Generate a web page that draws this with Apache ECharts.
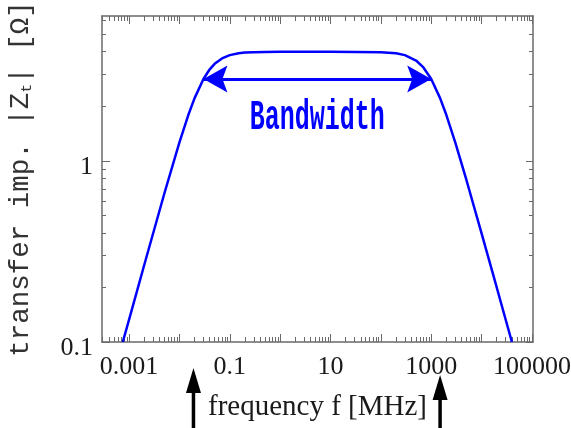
<!DOCTYPE html>
<html><head><meta charset="utf-8">
<script src="https://cdn.jsdelivr.net/npm/echarts@6/dist/echarts.min.js"></script>
<style>html,body{margin:0;padding:0;background:#fff}#c{width:571px;height:428px}</style>
</head><body><div id="c"></div>
<script>
// ---- data ----
const freq = [0.00075,0.001,0.002,0.005,0.01,0.015,0.02,0.03,0.04,0.05,0.07,0.1,0.15,0.2,0.3,0.5,1,10,100,200,300,500,700,1000,1500,2000,3000,5000,10000,20000,40000];
const impedance = [0.1,0.133,0.266,0.658,1.265,1.789,2.219,2.828,3.2,3.43,3.676,3.831,3.922,3.956,3.98,3.993,3.998,4.0,3.98,3.922,3.831,3.578,3.277,2.828,2.219,1.789,1.265,0.784,0.398,0.2,0.1];
const bandEdges = [0.03, 1000];
const bandLevel = 2.83;
const bandLabel = 'Bandwidth';
const bandLabelPos = [5.48, 1.72];
const markerFreqs = [0.019, 1500];
const xLabelVals = [0.001, 0.1, 10, 1000, 100000];
const xLabelText = ['0.001', '0.1', '10', '1000', '100000'];
const xMajor = [0.001,0.01,0.1,1,10,100,1000,10000,100000];
const xMinor = [];
[0.0001,0.001,0.01,0.1,1,10,100,1000,10000].forEach(d => { for (let k = 2; k <= 9; k++) xMinor.push(+(d*k).toPrecision(3)); });
const yLabelVals = [0.1, 1];
const yLabelText = ['0.1', '1'];
const yMajor = [0.1, 1];
const yMinor = [0.2,0.3,0.4,0.5,0.6,0.7,0.8,0.9,2,3,4,5,6];
const xName = 'frequency f [MHz]';
const xMin = 0.00029, xMax = 105000, yMin = 0.1, yMax = 6.3;

const AX = '#6a6a6a';
const BLUE = '#0000ff';
const serif = '"Liberation Serif", "DejaVu Serif", serif';
const mono = '"Liberation Mono", "DejaVu Sans Mono", monospace';

function xAxisDef(pos, ticks, len, showLine, showLabel) {
  return {
    type: 'log', logBase: 10, position: pos, min: xMin, max: xMax,
    axisLine: { show: showLine, onZero: false, lineStyle: { color: AX, width: 1.5 } },
    axisTick: { show: true, inside: true, length: len, customValues: ticks, lineStyle: { color: AX, width: 1 } },
    axisLabel: showLabel ? {
      show: true, customValues: xLabelVals, margin: 12, color: '#1a1a1a',
      fontFamily: serif, fontSize: 26, hideOverlap: false,
      formatter: v => xLabelText[xLabelVals.findIndex(a => Math.abs(Math.log10(a) - Math.log10(v)) < 0.01)]
    } : { show: false },
    splitLine: { show: false }, minorTick: { show: false }, minorSplitLine: { show: false }
  };
}
function yAxisDef(pos, ticks, len, showLine, showLabel) {
  return {
    type: 'log', logBase: 10, position: pos, min: yMin, max: yMax,
    axisLine: { show: showLine, onZero: false, lineStyle: { color: AX, width: 1.5 } },
    axisTick: { show: true, inside: true, length: len, customValues: ticks, lineStyle: { color: AX, width: 1 } },
    axisLabel: showLabel ? {
      show: true, customValues: yLabelVals, margin: 9, color: '#1a1a1a',
      fontFamily: serif, fontSize: 26, verticalAlign: 'top', lineHeight: 12,
      formatter: v => yLabelText[yLabelVals.findIndex(a => Math.abs(Math.log10(a) - Math.log10(v)) < 0.01)]
    } : { show: false },
    splitLine: { show: false }, minorTick: { show: false }, minorSplitLine: { show: false }
  };
}

const xa0 = xAxisDef('bottom', xMajor, 8, true, true);
xa0.name = xName; xa0.nameLocation = 'middle'; xa0.nameGap = 51;
xa0.nameTextStyle = { fontFamily: serif, fontSize: 29, color: '#1a1a1a' };
const ya0 = yAxisDef('left', yMajor, 8, true, true);
ya0.name = '{a|transfer imp. |Z}{s|t}{a|| [Ω]}';
ya0.nameLocation = 'middle'; ya0.nameGap = 67;
ya0.nameTextStyle = {
  color: '#333',
  rich: {
    a: { fontFamily: mono, fontSize: 27.5, color: '#333', lineHeight: 28 },
    s: { fontFamily: mono, fontSize: 15, color: '#333', verticalAlign: 'bottom', lineHeight: 28 }
  }
};

const option = {
  animation: false,
  backgroundColor: '#fff',
  grid: { left: 102, right: 38, top: 16, bottom: 86, containLabel: false, outerBoundsMode: 'none' },
  xAxis: [
    xa0,
    xAxisDef('bottom', xMinor, 5, false, false),
    xAxisDef('top', xMajor, 8, true, false),
    xAxisDef('top', xMinor, 5, false, false)
  ],
  yAxis: [
    ya0,
    yAxisDef('left', yMinor, 4, false, false),
    yAxisDef('right', yMajor, 7, true, false),
    yAxisDef('right', yMinor, 4, false, false)
  ],
  series: [{
    type: 'line', xAxisIndex: 0, yAxisIndex: 0,
    data: freq.map((f, i) => [f, impedance[i]]),
    showSymbol: false, symbol: 'none',
    lineStyle: { color: BLUE, width: 2.5 },
    clip: true,
    markLine: {
      silent: true, symbol: ['none', 'none'],
      lineStyle: { color: BLUE, width: 3, type: 'solid' },
      label: { show: false },
      data: [[{ coord: [bandEdges[0], bandLevel] }, { coord: [bandEdges[1], bandLevel] }]]
    }
  }]
};

const chart = echarts.init(document.getElementById('c'), null, { renderer: 'canvas' });
chart.setOption(option);

const px = v => chart.convertToPixel({ seriesIndex: 0 }, v);
const gridBottom = 428 - 86;
const tipOffsets = [26, 33];
const graphics = [];

// blue double arrow heads at the bandwidth edges
const pL = px([bandEdges[0], bandLevel]);
const pR = px([bandEdges[1], bandLevel]);
const HL = 24, HW = 13.5, NOTCH = 5;
graphics.push({ type: 'polygon', z: 100, shape: { points: [[pL[0], pL[1]], [pL[0] + HL, pL[1] - HW], [pL[0] + HL - NOTCH, pL[1]], [pL[0] + HL, pL[1] + HW]] }, style: { fill: BLUE } });
graphics.push({ type: 'polygon', z: 100, shape: { points: [[pR[0], pR[1]], [pR[0] - HL, pR[1] - HW], [pR[0] - HL + NOTCH, pR[1]], [pR[0] - HL, pR[1] + HW]] }, style: { fill: BLUE } });

const lp = px(bandLabelPos);
graphics.push({
  type: 'text', x: lp[0], y: lp[1], scaleY: 1.7,
  style: { text: bandLabel, font: 'bold 25px ' + mono, fill: BLUE, align: 'center', verticalAlign: 'middle' }
});
markerFreqs.forEach((f, i) => {
  const X = px([f, 1])[0];
  const tip = gridBottom + tipOffsets[i];
  graphics.push({ type: 'line', shape: { x1: X, y1: tip + 20, x2: X, y2: 428 }, style: { stroke: '#000', lineWidth: 3.5 } });
  graphics.push({ type: 'polygon', shape: { points: [[X, tip], [X - 7.5, tip + 25], [X + 7.5, tip + 25]] }, style: { fill: '#000' } });
});
chart.setOption({ graphic: graphics });
</script>
</body></html>
